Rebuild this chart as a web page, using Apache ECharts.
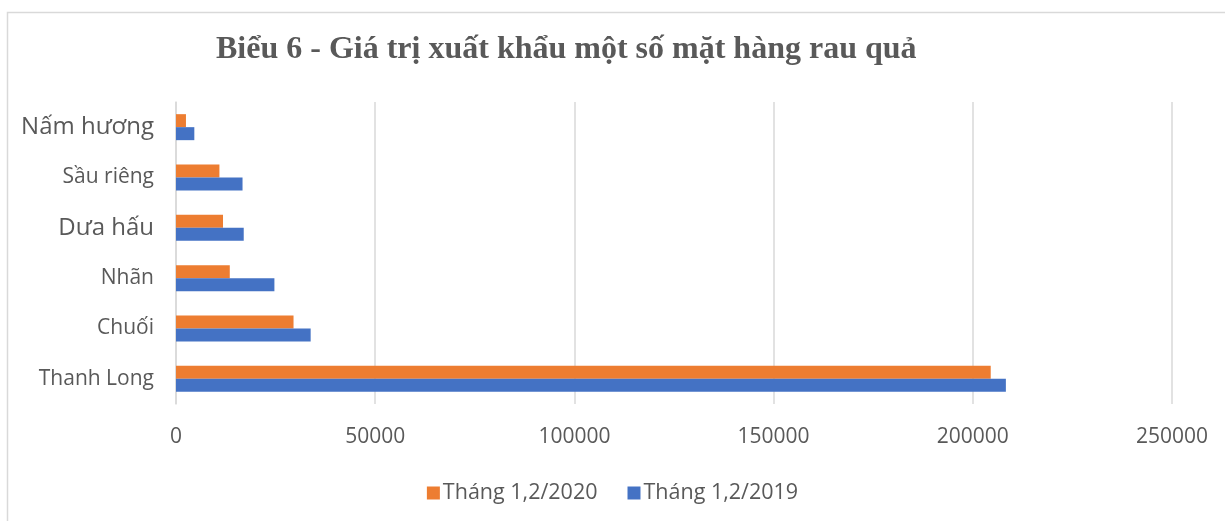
<!DOCTYPE html>
<html>
<head>
<meta charset="utf-8">
<script src="https://cdn.jsdelivr.net/npm/echarts@6/dist/echarts.min.js"></script>
<style>
  html, body { margin: 0; padding: 0; background: #fff; }
  #chart { width: 1225px; height: 521px; }
</style>
</head>
<body>
<div id="chart"></div>
<script>
// categories bottom -> top (category axis starts at the bottom)
var categories = ['Thanh Long', 'Chuối', 'Nhãn', 'Dưa hấu', 'Sầu riêng', 'Nấm hương'];
var values2020 = [204500, 29500, 13500, 11800, 10900, 2500];
var values2019 = [208300, 33800, 24700, 17000, 16700, 4600];
var seriesNames = ['Tháng 1,2/2020', 'Tháng 1,2/2019'];
var xTicks = [0, 50000, 100000, 150000, 200000, 250000];

var chart = echarts.init(document.getElementById('chart'));

var bigLabels = { 'Nấm hương': true, 'Dưa hấu': true };

var option = {
    animation: false,
    textStyle: { fontFamily: 'Open Sans' },
    graphic: [{
        type: 'rect',
        shape: { x: 7.5, y: 12.5, width: 1240, height: 530 },
        style: { fill: 'none', stroke: '#d9d9d9', lineWidth: 1.5 },
        silent: true
    }],
    title: {
        text: 'Biểu 6 - Giá trị xuất khẩu một số mặt hàng rau quả',
        left: 211,
        top: 29,
        textStyle: {
            fontFamily: 'Liberation Serif',
            fontWeight: 'bold',
            fontSize: 32,
            color: '#595959'
        }
    },
    legend: {
        data: seriesNames,
        left: 'center',
        top: 477,
        itemWidth: 13,
        itemHeight: 13,
        itemGap: 30,
        icon: 'rect',
        textStyle: { fontSize: 21.5, color: '#595959', padding: [0, 0, 0, -2] }
    },
    grid: { left: 176, top: 102, width: 996, height: 302, containLabel: false },
    xAxis: {
        type: 'value',
        min: xTicks[0],
        max: xTicks[xTicks.length - 1],
        interval: xTicks[1] - xTicks[0],
        axisLine: { show: false },
        axisTick: { show: false },
        axisLabel: {
            fontSize: 21,
            color: '#595959',
            margin: 23,
            formatter: function (v) { return String(v); }
        },
        splitLine: { lineStyle: { color: '#d9d9d9', width: 1.5 } }
    },
    yAxis: {
        type: 'category',
        data: categories,
        axisLine: { lineStyle: { color: '#d9d9d9', width: 1.5 } },
        axisTick: { show: false },
        axisLabel: {
            margin: 22,
            color: '#595959',
            formatter: function (v) {
                return bigLabels[v] ? '{b|' + v + '}' : '{n|' + v + '}';
            },
            rich: {
                b: { fontSize: 24, color: '#595959' },
                n: { fontSize: 21, color: '#595959' }
            }
        }
    },
    series: [{
        name: seriesNames[0],
        type: 'bar',
        data: values2020,
        barWidth: 13,
        barGap: '0%',
        itemStyle: { color: '#ed7d31' }
    }, {
        name: seriesNames[1],
        type: 'bar',
        data: values2019,
        barWidth: 13,
        barGap: '0%',
        itemStyle: { color: '#4472c4' }
    }]
};

chart.setOption(option);
window.onresize = function () { chart.resize(); };
</script>
</body>
</html>
